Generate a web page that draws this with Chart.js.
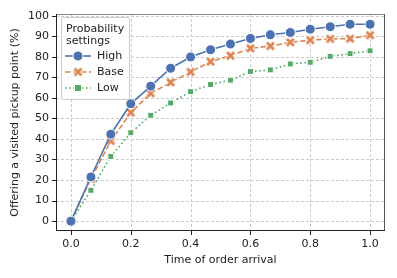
<!DOCTYPE html>
<html>
<head>
<meta charset="utf-8">
<script src="https://cdn.jsdelivr.net/npm/chart.js@4/dist/chart.umd.min.js"></script>
<style>
  html, body { margin: 0; padding: 0; background: #fff; }
  #wrap { width: 397px; height: 278px; }
</style>
</head>
<body>
<div id="wrap"><canvas id="chart" width="397" height="278"></canvas></div>
<script>
const times = [0, 0.0667, 0.1333, 0.2, 0.2667, 0.3333, 0.4, 0.4667, 0.5333, 0.6, 0.6667, 0.7333, 0.8, 0.8667, 0.9333, 1.0];
const highVals = [0, 21.5, 42.3, 57.1, 65.7, 74.4, 79.9, 83.4, 86.2, 88.9, 90.7, 91.8, 93.4, 94.6, 95.8, 95.8];
const baseVals = [0, 20.5, 39.0, 52.8, 62.2, 67.5, 72.6, 77.6, 80.5, 84.1, 85.2, 87.0, 88.1, 88.7, 88.8, 90.5];
const lowVals = [0, 15.0, 31.5, 43.0, 51.5, 57.5, 63.0, 66.5, 68.6, 72.8, 73.6, 76.5, 77.3, 80.2, 81.5, 82.9];
const seriesNames = ["High", "Base", "Low"];
const xTicks = [0, 0.2, 0.4, 0.6, 0.8, 1.0];
const yTicks = [0, 10, 20, 30, 40, 50, 60, 70, 80, 90, 100];

const FONT = "'DejaVu Sans', sans-serif";
const BLUE = "#4c72b0", ORANGE = "#dd8452", GREEN = "#55a868";

// filled X marker with white edge, like matplotlib "X"
function xMarker(size) {
    const c = document.createElement("canvas");
    c.width = size; c.height = size;
    const g = c.getContext("2d");
    const m = 2, e = size - 2;
    g.lineCap = "butt";
    g.strokeStyle = "#fff"; g.lineWidth = 4.5;
    g.beginPath(); g.moveTo(m, m); g.lineTo(e, e); g.moveTo(e, m); g.lineTo(m, e); g.stroke();
    g.strokeStyle = ORANGE; g.lineWidth = 2.8;
    g.beginPath(); g.moveTo(m, m); g.lineTo(e, e); g.moveTo(e, m); g.lineTo(m, e); g.stroke();
    return c;
}
const xImg = xMarker(11);

const toPts = (vals) => vals.map((v, i) => ({ x: times[i], y: v }));

// dashed grid, drawn under the lines
const gridPlugin = {
    id: "gridPlugin",
    beforeDatasetsDraw(chart) {
        const ctx = chart.ctx;
        const a = chart.chartArea;
        const xs = chart.scales.x, ys = chart.scales.y;
        ctx.save();
        ctx.strokeStyle = "#c4c4c4";
        ctx.lineWidth = 0.9;
        ctx.setLineDash([3, 2]);
        ctx.beginPath();
        xTicks.forEach(v => {
            const px = Math.round(xs.getPixelForValue(v)) + 0.5;
            ctx.moveTo(px, a.top); ctx.lineTo(px, a.bottom);
        });
        yTicks.forEach(v => {
            const py = Math.round(ys.getPixelForValue(v)) + 0.5;
            ctx.moveTo(a.left, py); ctx.lineTo(a.right, py);
        });
        ctx.stroke();
        ctx.restore();
    }
};

const framePlugin = {
    id: "framePlugin",
    afterDraw(chart) {
        const ctx = chart.ctx;
        const a = chart.chartArea;
        const xs = chart.scales.x, ys = chart.scales.y;
        ctx.save();
        // spines
        ctx.lineWidth = 1;
        ctx.strokeStyle = "#888";
        ctx.beginPath(); ctx.moveTo(a.left, a.top + 0.5); ctx.lineTo(a.right, a.top + 0.5); ctx.stroke();
        ctx.strokeStyle = "#555";
        ctx.beginPath(); ctx.moveTo(a.right - 0.5, a.top); ctx.lineTo(a.right - 0.5, a.bottom); ctx.stroke();
        ctx.strokeStyle = "#222";
        ctx.beginPath(); ctx.moveTo(a.left + 0.5, a.top); ctx.lineTo(a.left + 0.5, a.bottom);
        ctx.moveTo(a.left, a.bottom - 0.5); ctx.lineTo(a.right, a.bottom - 0.5); ctx.stroke();
        // tick marks
        ctx.beginPath();
        xTicks.forEach(v => {
            const px = Math.round(xs.getPixelForValue(v)) + 0.5;
            ctx.moveTo(px, a.bottom); ctx.lineTo(px, a.bottom + 4);
        });
        yTicks.forEach(v => {
            const py = Math.round(ys.getPixelForValue(v)) + 0.5;
            ctx.moveTo(a.left, py); ctx.lineTo(a.left - 4, py);
        });
        ctx.stroke();

        // legend
        const lx = 61, ly = 17, lw = 68, lh = 82;
        ctx.fillStyle = "rgba(255,255,255,0.85)";
        ctx.strokeStyle = "#cccccc";
        ctx.lineWidth = 1;
        ctx.beginPath();
        ctx.roundRect(lx + 0.5, ly + 0.5, lw, lh, 2);
        ctx.fill(); ctx.stroke();
        ctx.fillStyle = "#222";
        ctx.font = "11px " + FONT;
        ctx.textBaseline = "middle";
        ctx.textAlign = "left";
        ctx.fillText("Probability", 66, 29);
        ctx.fillText("settings", 66, 41);
        const rows = [56, 72, 88];
        chart.data.datasets.forEach((ds, i) => {
            const y = rows[i];
            ctx.save();
            ctx.strokeStyle = ds.borderColor;
            ctx.lineWidth = ds.borderWidth;
            ctx.setLineDash(ds.borderDash || []);
            ctx.beginPath(); ctx.moveTo(65, y); ctx.lineTo(91, y); ctx.stroke();
            ctx.restore();
            const mx = 78;
            if (ds.pointStyle === "circle") {
                ctx.fillStyle = ds.pointBackgroundColor;
                ctx.strokeStyle = "#fff";
                ctx.beginPath(); ctx.arc(mx, y, ds.pointRadius, 0, Math.PI * 2); ctx.fill(); ctx.stroke();
            } else if (ds.pointStyle === "rect") {
                ctx.fillStyle = ds.pointBackgroundColor;
                ctx.strokeStyle = "#fff";
                ctx.fillRect(mx - 3.5, y - 3.5, 7, 7);
                ctx.strokeRect(mx - 3.5, y - 3.5, 7, 7);
            } else {
                ctx.drawImage(ds.pointStyle, mx - 5.5, y - 5.5);
            }
            ctx.fillStyle = "#222";
            ctx.font = "11px " + FONT;
            ctx.fillText(seriesNames[i], 97, y);
        });
        ctx.restore();
    }
};

new Chart(document.getElementById("chart"), {
    type: "line",
    data: {
        datasets: [
            {
                label: seriesNames[0],
                data: toPts(highVals),
                borderColor: BLUE,
                borderWidth: 1.6,
                pointStyle: "circle",
                pointRadius: 5,
                pointBackgroundColor: BLUE,
                pointBorderColor: "#fff",
                pointBorderWidth: 1,
                tension: 0,
            },
            {
                label: seriesNames[1],
                data: toPts(baseVals),
                borderColor: ORANGE,
                borderWidth: 1.6,
                borderDash: [5.5, 2.5],
                pointStyle: xImg,
                pointRadius: 5,
                tension: 0,
            },
            {
                label: seriesNames[2],
                data: toPts(lowVals),
                borderColor: GREEN,
                borderWidth: 1.6,
                borderDash: [1.6, 2.6],
                pointStyle: "rect",
                pointRadius: 4.2,
                pointBackgroundColor: GREEN,
                pointBorderColor: "#fff",
                pointBorderWidth: 1,
                tension: 0,
            },
        ],
    },
    options: {
        responsive: false,
        animation: false,
        layout: { padding: { left: 0, top: 14, right: 12, bottom: 0 } },
        plugins: {
            legend: { display: false },
            tooltip: { enabled: false },
        },
        scales: {
            x: {
                type: "linear",
                min: -0.05,
                max: 1.05,
                afterBuildTicks: (s) => { s.ticks = xTicks.map(v => ({ value: v })); },
                afterFit: (s) => { s.height = 47; },
                grid: { display: false, drawTicks: false },
                border: { display: false },
                ticks: {
                    color: "#222",
                    font: { family: FONT, size: 11 },
                    padding: 7,
                    maxRotation: 0,
                    callback: (v) => v.toFixed(1),
                },
                title: {
                    display: true,
                    text: "Time of order arrival",
                    color: "#222",
                    font: { family: FONT, size: 11 },
                    padding: { top: 2, bottom: 11 },
                },
            },
            y: {
                min: -4.8,
                max: 100.8,
                afterBuildTicks: (s) => { s.ticks = yTicks.map(v => ({ value: v })); },
                afterFit: (s) => { s.width = 56; },
                grid: { display: false, drawTicks: false },
                border: { display: false },
                ticks: {
                    color: "#222",
                    font: { family: FONT, size: 11 },
                    padding: 7,
                },
                title: {
                    display: true,
                    text: "Offering a visited pickup point (%)",
                    color: "#222",
                    font: { family: FONT, size: 11 },
                    padding: { top: 9, bottom: 2 },
                },
            },
        },
    },
    plugins: [gridPlugin, framePlugin],
});
</script>
</body>
</html>
